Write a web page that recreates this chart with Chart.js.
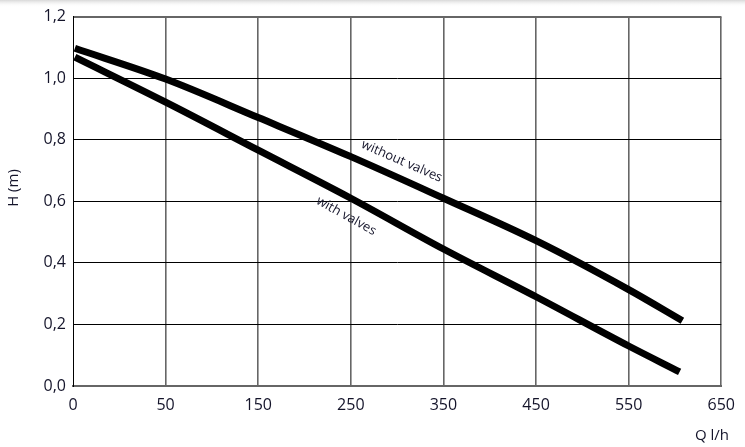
<!DOCTYPE html>
<html>
<head>
<meta charset="utf-8">
<script src="https://cdn.jsdelivr.net/npm/chart.js@4/dist/chart.umd.min.js"></script>
<style>
html,body{margin:0;padding:0;background:#fff;}
#wrap{width:745px;height:447px;position:relative;}
</style>
</head>
<body>
<div id="wrap"><canvas id="c" width="745" height="447"></canvas></div>
<script>
// x positions are in grid units (one unit per labelled gridline)
const xTickLabels = ['0','50','150','250','350','450','550','650'];
const yTickValues = [0,0.2,0.4,0.6,0.8,1.0,1.2];

const withoutValvesX = [0.02, 1, 2, 3, 4, 5, 6, 6.58];
const withoutValvesY = [1.097, 0.997, 0.872, 0.745, 0.61, 0.472, 0.313, 0.212];

const withValvesX = [0.02, 1, 2, 3, 4, 5, 6, 6.55];
const withValvesY = [1.068, 0.922, 0.766, 0.61, 0.445, 0.29, 0.13, 0.046];

const curveLabels = [
  {text:'without valves', x:3.55, y:0.73, angle:23.6},
  {text:'with valves', x:2.95, y:0.552, angle:29}
];
const yTitle = 'H (m)';
const xTitle = 'Q l/h';

const toPts = (xs, ys) => xs.map((x,i)=>({x, y: ys[i]}));
const txtColor = '#14142a';
const font = '"Open Sans", "Noto Sans", sans-serif';

const decor = {
  id:'decor',
  beforeDraw(chart){
    const c = chart.ctx;
    c.save();
    c.fillStyle='#fff';
    c.fillRect(0,0,chart.width,chart.height);
    const g = c.createLinearGradient(0,0,0,7);
    g.addColorStop(0,'#d8d8d8');
    g.addColorStop(1,'rgba(255,255,255,0)');
    c.fillStyle=g;
    c.fillRect(0,0,chart.width,7);
    c.restore();
  },
  afterDatasetsDraw(chart){
    const c = chart.ctx, xs = chart.scales.x, ys = chart.scales.y;
    c.save();
    c.fillStyle = txtColor;
    c.font = '13px ' + font;
    c.textAlign='center'; c.textBaseline='middle';
    curveLabels.forEach(l=>{
      c.save();
      c.translate(xs.getPixelForValue(l.x), ys.getPixelForValue(l.y));
      c.rotate(l.angle*Math.PI/180);
      c.fillText(l.text,0,0);
      c.restore();
    });
    c.font = '15px ' + font;
    c.save();
    c.translate(14, 188);
    c.rotate(-Math.PI/2);
    c.fillText(yTitle,0,0);
    c.restore();
    c.textAlign='center';
    c.fillText(xTitle, 712, 436);
    c.restore();
  }
};

new Chart(document.getElementById('c'), {
  type:'line',
  data:{
    datasets:[
      {label:'without valves', data:toPts(withoutValvesX, withoutValvesY), borderColor:'#000', borderWidth:7, borderCapStyle:'butt', pointRadius:0, cubicInterpolationMode:'monotone', fill:false},
      {label:'with valves', data:toPts(withValvesX, withValvesY), borderColor:'#000', borderWidth:7, borderCapStyle:'butt', pointRadius:0, cubicInterpolationMode:'monotone', fill:false}
    ]
  },
  options:{
    responsive:false,
    animation:false,
    events:[],
    layout:{padding:{top:10,right:22,left:0,bottom:0}},
    plugins:{legend:{display:false},tooltip:{enabled:false}},
    scales:{
      x:{
        type:'linear', min:0, max:7,
        afterFit(s){ s.height = 61; },
        ticks:{stepSize:1, autoSkip:false, padding:10, color:txtColor, font:{family:font,size:16},
          callback:(v)=> xTickLabels[Math.round(v)] ?? ''},
        grid:{drawTicks:false, color:(ctx)=> ctx.tick && ctx.tick.value===0 ? '#000' : '#666', lineWidth:(ctx)=> ctx.tick && ctx.tick.value===0 ? 1 : 1.6},
        border:{color:'#666', width:2}
      },
      y:{
        min:0, max:1.2,
        afterFit(s){ s.width = 73; },
        afterBuildTicks(s){ s.ticks = yTickValues.map(v=>({value:v})); },
        ticks:{padding:7, color:txtColor, font:{family:font,size:16},
          callback:(v)=> (Math.round(v*10)/10).toFixed(1).replace('.',',')},
        grid:{drawTicks:false, color:(ctx)=> ctx.tick && ctx.tick.value>=1.2 ? '#666' : '#000', lineWidth:(ctx)=> ctx.tick && ctx.tick.value>=1.2 ? 2 : 1},
        border:{color:'#000', width:1}
      }
    }
  },
  plugins:[decor]
});
</script>
</body>
</html>
